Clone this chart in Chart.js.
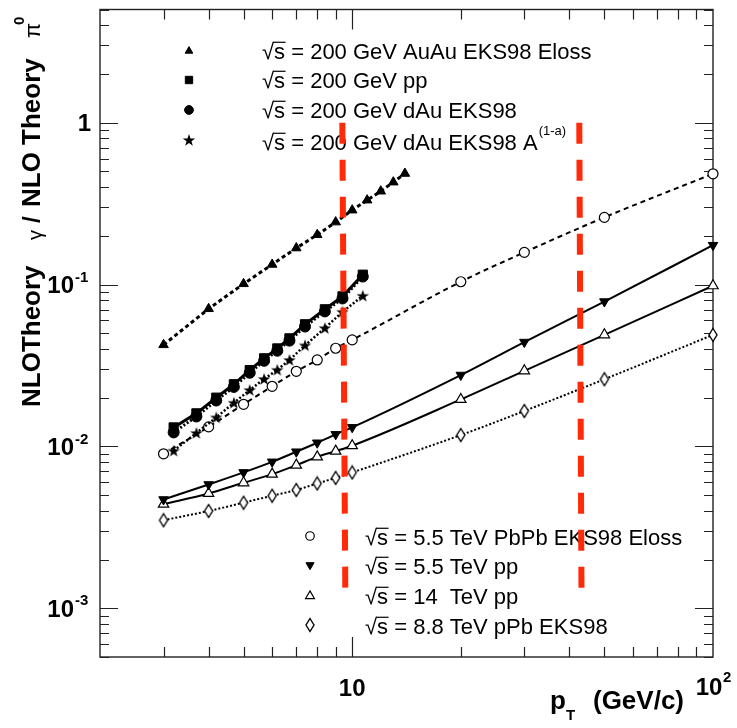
<!DOCTYPE html>
<html>
<head>
<meta charset="utf-8">
<script src="https://cdn.jsdelivr.net/npm/chart.js@4.4.1/dist/chart.umd.min.js"></script>
<style>
  html, body { margin: 0; padding: 0; background: #fff; }
  canvas { display: block; }
</style>
</head>
<body>
<canvas id="c" width="737" height="728"></canvas>
<script>
/* ── data ── */
const ptRhic = [3, 4, 5, 6, 7, 8, 9, 10, 11, 12, 13, 14];
const auauEloss = [0.0424, 0.0708, 0.101, 0.133, 0.168, 0.203, 0.243, 0.288, 0.332, 0.377, 0.429, 0.485];

const ptDau = [3.2, 3.7, 4.2, 4.7, 5.2, 5.7, 6.2, 6.7, 7.4, 8.4, 9.4, 10.7];
const pp200 = [0.0131, 0.0160, 0.0200, 0.0242, 0.0296, 0.0350, 0.0403, 0.0465, 0.0568, 0.0703, 0.0845, 0.115];
const dauEks = [0.0122, 0.0153, 0.0192, 0.0233, 0.0285, 0.0338, 0.0390, 0.0450, 0.0550, 0.0682, 0.0820, 0.112];
const dauA = [0.0094, 0.0121, 0.0151, 0.0186, 0.0223, 0.0261, 0.0297, 0.0342, 0.0421, 0.0538, 0.0678, 0.0852];

const ptLhc = [3, 4, 5, 6, 7, 8, 9, 10, 20, 30, 50, 100];
const pbpbEloss = [0.0090, 0.0132, 0.0182, 0.0235, 0.0291, 0.0342, 0.0404, 0.0455, 0.104, 0.158, 0.260, 0.483];
const pp5500 = [0.00470, 0.00582, 0.00691, 0.00803, 0.00927, 0.01053, 0.01187, 0.01312, 0.0276, 0.0441, 0.0785, 0.175];
const pp14000 = [0.00440, 0.00512, 0.00596, 0.00674, 0.00766, 0.00862, 0.00935, 0.0101, 0.0195, 0.0293, 0.0489, 0.0983];
const ppb8800 = [0.00350, 0.00399, 0.00449, 0.00496, 0.00538, 0.00590, 0.00639, 0.00690, 0.01175, 0.01655, 0.0260, 0.0489];

// red dashed markers (pT at top, pT at bottom)
const cutLowX = [9.39, 9.57];
const cutHighX = [42.6, 43.2];
const cutY = [1.0, 0.00127];

const topLabels = ['200 GeV AuAu EKS98 Eloss', '200 GeV pp', '200 GeV dAu EKS98', '200 GeV dAu EKS98 A'];
const bottomLabels = ['5.5 TeV PbPb EKS98 Eloss', '5.5 TeV pp', '14  TeV pp', '8.8 TeV pPb EKS98'];

const yTickVals = [1e-3, 1e-2, 1e-1, 1];
const yTickBase = ['10', '10', '10', '1'];
const yTickExp = ['-3', '-2', '-1', ''];
const xTickVals = [10, 100];
const xTickBase = ['10', '10'];
const xTickExp = ['', '2'];

/* ── custom marker shapes ── */
function makeStar() {
  const c = document.createElement('canvas');
  c.width = 14; c.height = 14;
  const g = c.getContext('2d');
  g.beginPath();
  for (let i = 0; i < 10; i++) {
    const r = i % 2 === 0 ? 6.5 : 2.6;
    const a = -Math.PI / 2 + i * Math.PI / 5;
    const px = 7 + r * Math.cos(a), py = 7.5 + r * Math.sin(a);
    i === 0 ? g.moveTo(px, py) : g.lineTo(px, py);
  }
  g.closePath();
  g.fillStyle = '#000';
  g.fill();
  return c;
}
function makeDiamond() {
  const c = document.createElement('canvas');
  c.width = 12; c.height = 16;
  const g = c.getContext('2d');
  g.beginPath();
  g.moveTo(6, 1.5); g.lineTo(10, 8); g.lineTo(6, 14.5); g.lineTo(2, 8);
  g.closePath();
  g.fillStyle = '#fff'; g.fill();
  g.strokeStyle = '#000'; g.lineWidth = 1.4; g.stroke();
  return c;
}
const starImg = makeStar();
const diamondImg = makeDiamond();

function pts(xs, ys) { return xs.map((x, i) => ({ x: x, y: ys[i] })); }

const mk = {
  auau: { pointStyle: 'triangle', radius: 5.5, bg: '#000', bw: 1 },
  pp200: { pointStyle: 'rect', radius: 6.5, bg: '#000', bw: 1 },
  dau: { pointStyle: 'circle', radius: 5.5, bg: '#000', bw: 1 },
  dauA: { pointStyle: starImg, radius: 6, bg: '#000', bw: 1 },
  pbpb: { pointStyle: 'circle', radius: 5, bg: '#fff', bw: 1.2 },
  pp55: { pointStyle: 'triangle', radius: 5.5, bg: '#000', bw: 1, rotation: 180 },
  pp14: { pointStyle: 'triangle', radius: 6, bg: '#fff', bw: 1.2 },
  ppb: { pointStyle: diamondImg, radius: 6, bg: '#fff', bw: 1.2 }
};

function series(label, xs, ys, m, dash, width, curve) {
  return {
    label: label,
    data: pts(xs, ys),
    borderColor: '#000',
    borderWidth: width,
    borderDash: dash,
    backgroundColor: m.bg,
    pointStyle: m.pointStyle,
    pointRadius: m.radius,
    pointRotation: m.rotation || 0,
    pointBorderColor: '#000',
    pointBackgroundColor: m.bg,
    pointBorderWidth: m.bw,
    cubicInterpolationMode: curve ? 'monotone' : 'default',
    clip: false,
    order: 1
  };
}

function cutLine(xs) {
  return {
    label: 'cut',
    data: pts(xs, cutY),
    borderColor: '#ff2a0a',
    borderWidth: 6,
    borderDash: [21, 16],
    borderCapStyle: 'butt',
    pointRadius: 0,
    clip: false,
    order: 0
  };
}

/* ── axes, ticks, labels and legends ── */
function sqrtS(ctx, x, y, size) {
  ctx.font = size + 'px "Liberation Sans", Arial, sans-serif';
  ctx.textBaseline = 'alphabetic';
  ctx.textAlign = 'left';
  ctx.fillText('\u221A', x, y);
  const w1 = ctx.measureText('\u221A').width;
  ctx.fillText('s', x + w1, y);
  const w2 = ctx.measureText('s').width;
  ctx.beginPath();
  ctx.lineWidth = 1.2;
  ctx.moveTo(x + w1 - 1, y - size * 0.76);
  ctx.lineTo(x + w1 + w2 + 0.5, y - size * 0.76);
  ctx.stroke();
  return x + w1 + w2;
}

function legendRow(ctx, x, y, text, sup) {
  const size = 22;
  let cx = sqrtS(ctx, x, y, size);
  ctx.font = size + 'px "Liberation Sans", Arial, sans-serif';
  const s = ' = ' + text;
  ctx.fillText(s, cx, y);
  cx += ctx.measureText(s).width;
  if (sup) {
    ctx.font = '13px "Liberation Sans", Arial, sans-serif';
    ctx.fillText(sup, cx + 1, y - 15);
  }
}

const decor = {
  id: 'decor',
  beforeDatasetsDraw(chart) {
    const { ctx, chartArea: a, scales } = chart;
    const xs = scales.x, ys = scales.y;
    ctx.save();
    ctx.fillStyle = '#000';
    ctx.strokeStyle = '#222';

    // frame
    ctx.lineWidth = 1.4;
    ctx.strokeRect(a.left, a.top, a.right - a.left, a.bottom - a.top);

    // y ticks, both sides
    ctx.lineWidth = 1.2;
    for (let e = -4; e <= 1; e++) {
      for (let m = 1; m <= 9; m++) {
        const v = m * Math.pow(10, e);
        if (v < ys.min || v > ys.max) continue;
        const py = Math.round(ys.getPixelForValue(v)) + 0.5;
        const len = m === 1 ? 18 : 9;
        ctx.beginPath();
        ctx.moveTo(a.left, py); ctx.lineTo(a.left + len, py);
        ctx.moveTo(a.right, py); ctx.lineTo(a.right - len, py);
        ctx.stroke();
      }
    }
    // x ticks, both sides
    for (let e = 0; e <= 2; e++) {
      for (let m = 1; m <= 9; m++) {
        const v = m * Math.pow(10, e);
        if (v <= xs.min || v >= xs.max) continue;
        const px = Math.round(xs.getPixelForValue(v)) + 0.5;
        const len = m === 1 ? 20 : 10;
        ctx.beginPath();
        ctx.moveTo(px, a.bottom); ctx.lineTo(px, a.bottom - len);
        ctx.moveTo(px, a.top); ctx.lineTo(px, a.top + len);
        ctx.stroke();
      }
    }

    // y tick labels
    yTickVals.forEach((v, i) => {
      const py = ys.getPixelForValue(v);
      ctx.textBaseline = 'middle';
      ctx.font = 'bold 24px "Liberation Sans", Arial, sans-serif';
      if (yTickExp[i]) {
        ctx.textAlign = 'right';
        ctx.fillText(yTickBase[i], 74, py + 2);
        ctx.textAlign = 'left';
        ctx.font = 'bold 15px "Liberation Sans", Arial, sans-serif';
        ctx.fillText(yTickExp[i], 75, py - 7);
      } else {
        ctx.textAlign = 'right';
        ctx.fillText(yTickBase[i], 91, py + 2);
      }
    });

    // x tick labels
    xTickVals.forEach((v, i) => {
      const px = xs.getPixelForValue(v);
      ctx.textBaseline = 'middle';
      ctx.font = 'bold 24px "Liberation Sans", Arial, sans-serif';
      ctx.textAlign = 'center';
      if (xTickExp[i]) {
        ctx.fillText(xTickBase[i], px - 4, 688);
        ctx.textAlign = 'left';
        ctx.font = 'bold 15px "Liberation Sans", Arial, sans-serif';
        ctx.fillText(xTickExp[i], px + 10, 678);
      } else {
        ctx.fillText(xTickBase[i], px, 689);
      }
    });

    // x axis title
    ctx.textBaseline = 'alphabetic';
    ctx.textAlign = 'left';
    ctx.font = 'bold 26px "Liberation Sans", Arial, sans-serif';
    ctx.fillText('p', 550, 709);
    ctx.font = 'bold 15px "Liberation Sans", Arial, sans-serif';
    ctx.fillText('T', 566, 720);
    ctx.textAlign = 'right';
    ctx.font = 'bold 26px "Liberation Sans", Arial, sans-serif';
    ctx.fillText('(GeV/c)', 684, 709);

    // y axis title, rotated
    ctx.save();
    ctx.translate(40, 0);
    ctx.rotate(-Math.PI / 2);
    ctx.textAlign = 'left';
    ctx.textBaseline = 'alphabetic';
    ctx.font = 'bold 26px "Liberation Sans", Arial, sans-serif';
    ctx.fillText('NLOTheory', -407, 0);
    ctx.font = '20px "Liberation Sans", Arial, sans-serif';
    ctx.fillText('\u03B3', -240, 2);
    ctx.font = 'bold 24px "Liberation Sans", Arial, sans-serif';
    ctx.fillText('/', -223, 0);
    ctx.font = 'bold 26px "Liberation Sans", Arial, sans-serif';
    ctx.fillText('NLO Theory', -207, 0);
    ctx.font = '22px "Liberation Sans", Arial, sans-serif';
    ctx.fillText('\u03C0', -38, 0);
    ctx.font = 'bold 15px "Liberation Sans", Arial, sans-serif';
    ctx.fillText('0', -25, -16);
    ctx.restore();

    // legends
    const topMk = [mk.auau, mk.pp200, mk.dau, mk.dauA];
    const topY = [51, 80, 110, 140];
    const topTextY = [59, 88, 118, 150];
    topMk.forEach((m, i) => {
      ctx.fillStyle = m.bg; ctx.strokeStyle = '#000'; ctx.lineWidth = m.bw;
      Chart.helpers.drawPoint(ctx, {
        pointStyle: m.pointStyle, radius: m.radius * 0.8, rotation: m.rotation || 0, borderWidth: m.bw
      }, 189, topY[i]);
    });
    ctx.fillStyle = '#000'; ctx.strokeStyle = '#000';
    topLabels.forEach((t, i) => legendRow(ctx, 262, topTextY[i], t, i === 3 ? '(1-a)' : ''));

    const botMk = [mk.pbpb, mk.pp55, mk.pp14, mk.ppb];
    const botY = [536, 565, 596, 625];
    const botTextY = [545, 574, 604, 634];
    botMk.forEach((m, i) => {
      ctx.fillStyle = m.bg; ctx.strokeStyle = '#000'; ctx.lineWidth = m.bw;
      Chart.helpers.drawPoint(ctx, {
        pointStyle: m.pointStyle, radius: m.radius * 0.85, rotation: m.rotation || 0, borderWidth: m.bw
      }, 310, botY[i]);
    });
    ctx.fillStyle = '#000'; ctx.strokeStyle = '#000';
    bottomLabels.forEach((t, i) => legendRow(ctx, 365, botTextY[i], t, ''));

    ctx.restore();
  }
};

new Chart(document.getElementById('c'), {
  type: 'line',
  data: {
    datasets: [
      cutLine(cutLowX),
      cutLine(cutHighX),
      series('AuAu Eloss', ptRhic, auauEloss, mk.auau, [4, 3], 3, false),
      series('pp 200', ptDau, pp200, mk.pp200, [], 3, false),
      series('dAu EKS98', ptDau, dauEks, mk.dau, [2, 2], 3, false),
      series('dAu A', ptDau, dauA, mk.dauA, [2, 2], 2.5, false),
      series('PbPb Eloss', ptLhc, pbpbEloss, mk.pbpb, [5, 4], 2, true),
      series('pp 5.5', ptLhc, pp5500, mk.pp55, [], 2, true),
      series('pp 14', ptLhc, pp14000, mk.pp14, [], 2, true),
      series('pPb 8.8', ptLhc, ppb8800, mk.ppb, [2, 2], 2, true)
    ]
  },
  options: {
    responsive: false,
    animation: false,
    devicePixelRatio: 1,
    layout: { padding: { left: 100, top: 9.5, right: 24, bottom: 71 } },
    plugins: { legend: { display: false }, tooltip: { enabled: false } },
    scales: {
      x: { type: 'logarithmic', min: 2, max: 100, display: false },
      y: { type: 'logarithmic', min: 5e-4, max: 5, display: false }
    }
  },
  plugins: [decor]
});
</script>
</body>
</html>
